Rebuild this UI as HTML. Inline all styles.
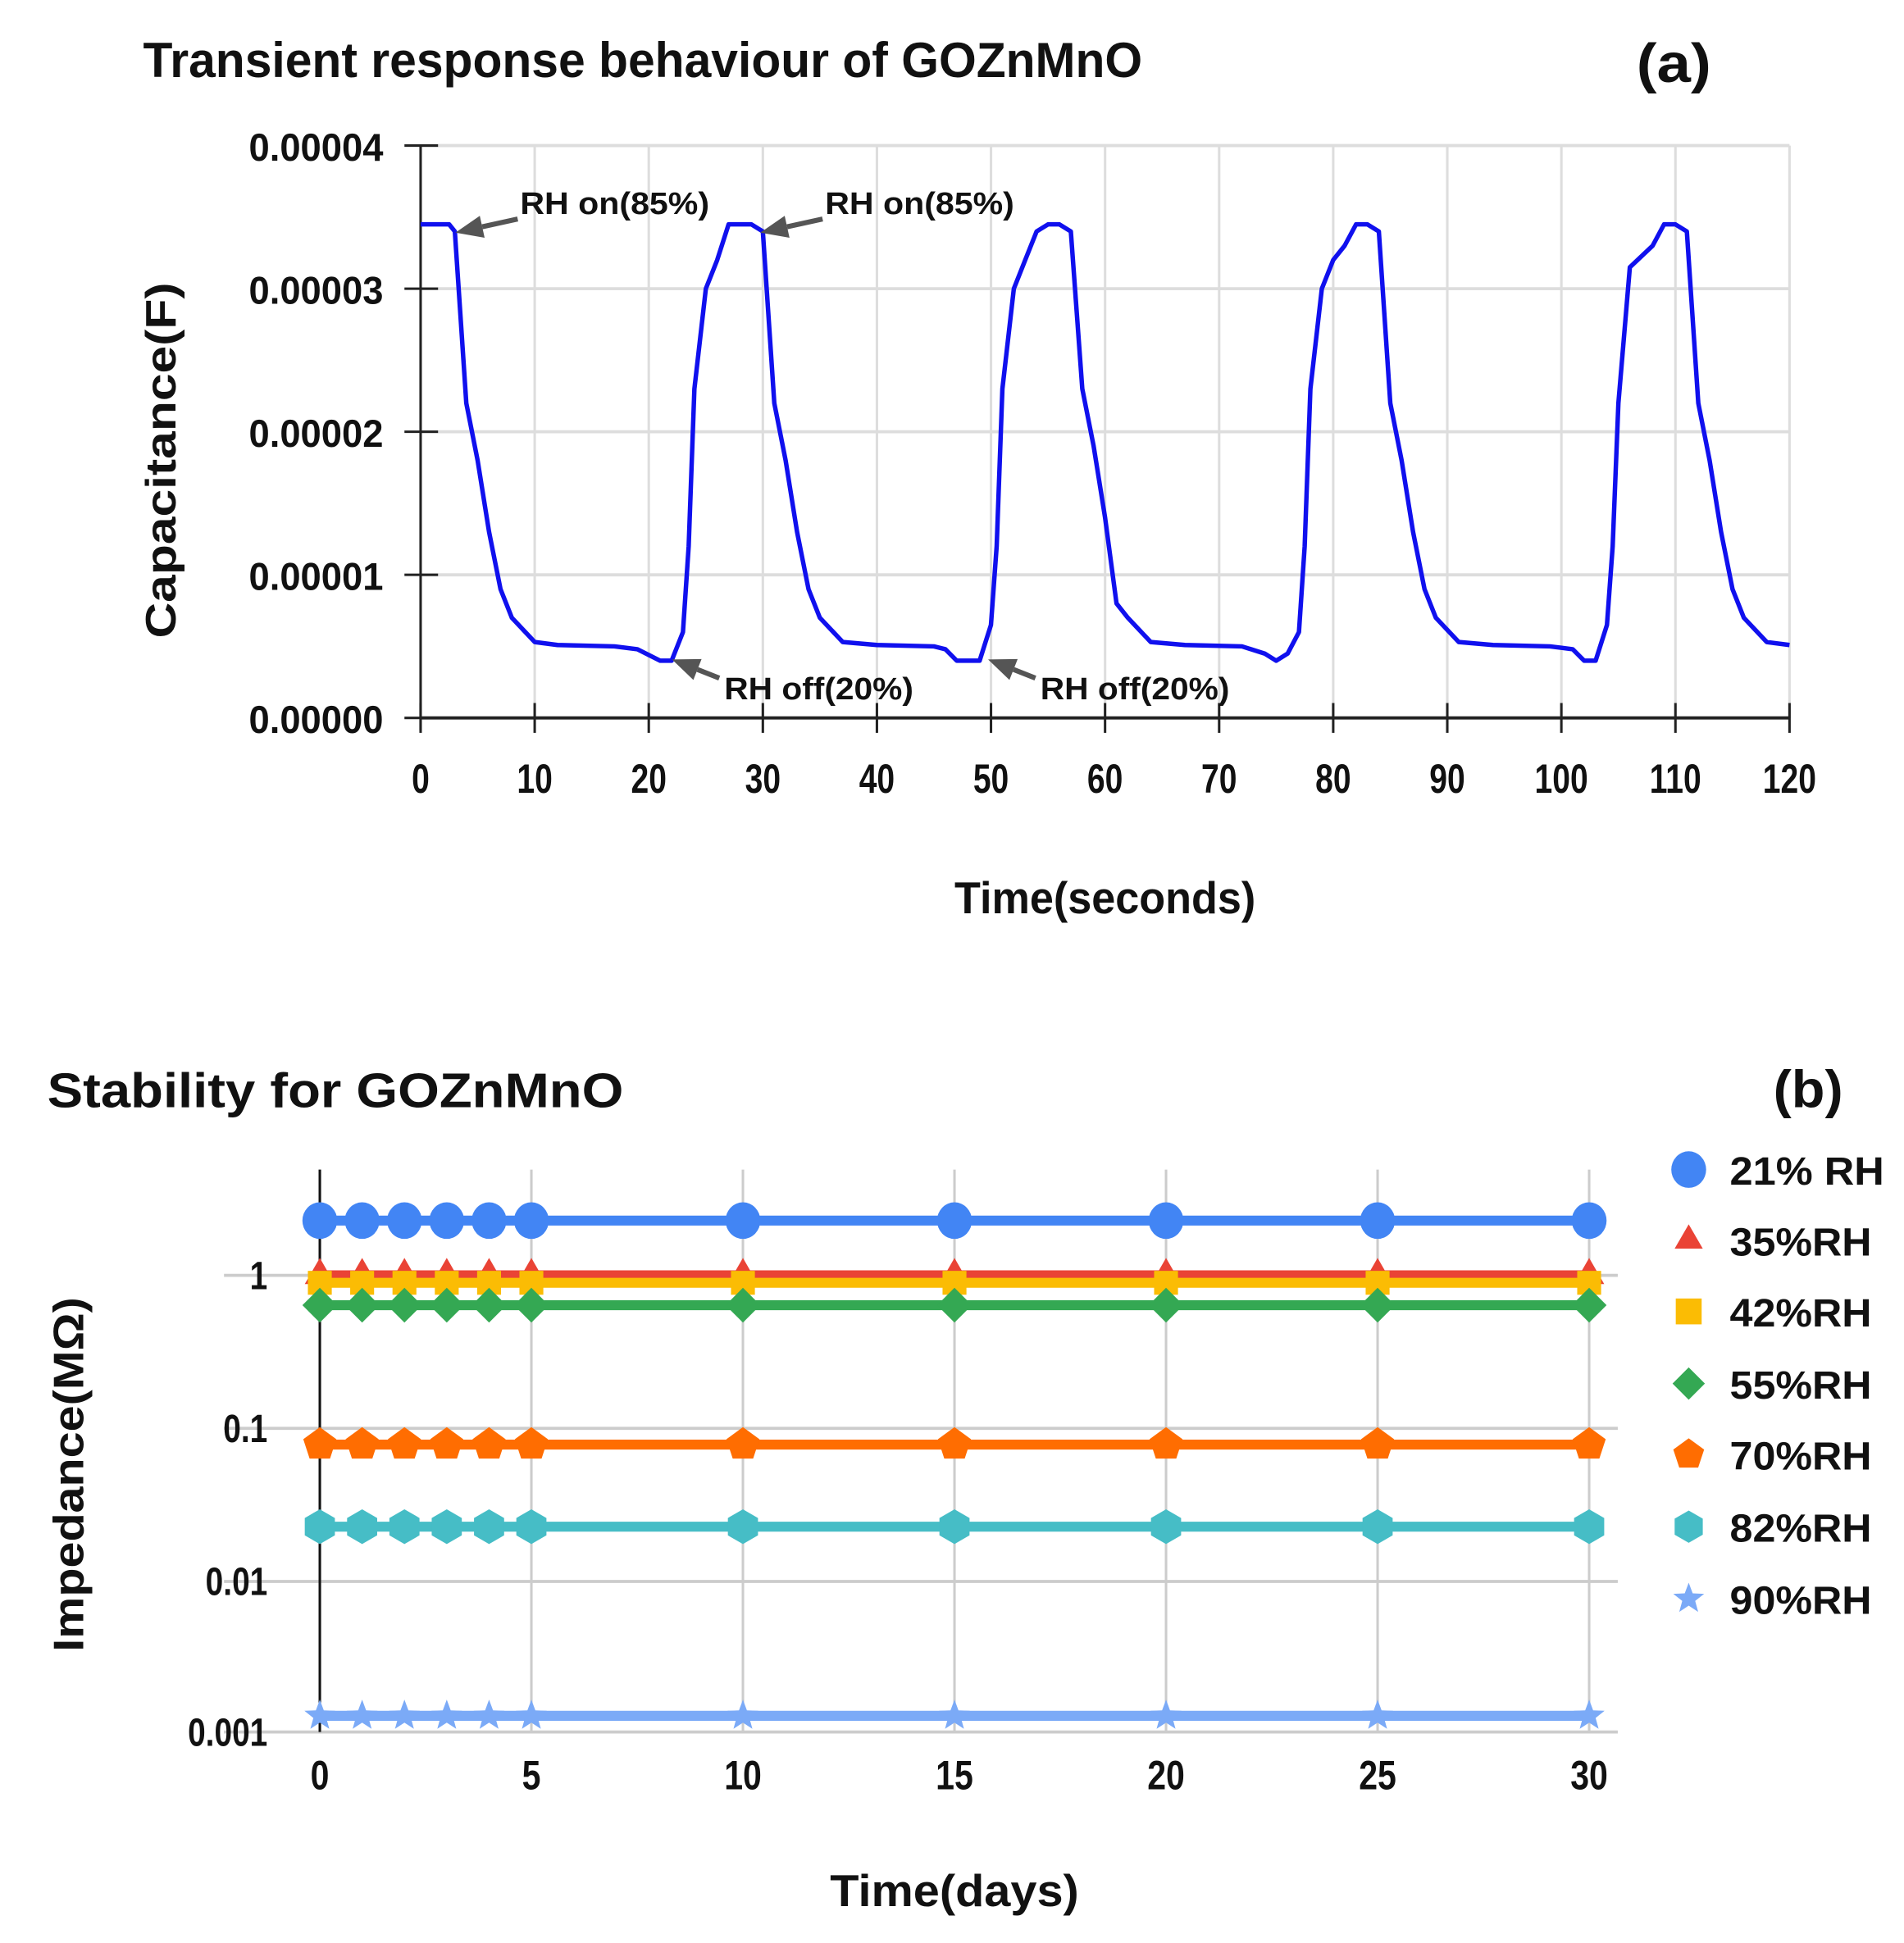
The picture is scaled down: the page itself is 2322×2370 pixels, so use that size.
<!DOCTYPE html>
<html><head><meta charset="utf-8"><style>
html,body{margin:0;padding:0;background:#fff}
svg{display:block}
text{font-family:"Liberation Sans",Arial,sans-serif;font-weight:bold;fill:#111}
</style></head><body>
<svg id="s" width="2322" height="2370" viewBox="0 0 1530 1561.6" preserveAspectRatio="none" xmlns="http://www.w3.org/2000/svg"></svg>
<script>
var o='';
var X0=338,X1=1438,Y0=577,Y1=117;
function ax(t){return X0+t*(X1-X0)/120}
function ay(v){return Y0-v*(Y0-Y1)/4}
for(var i=0;i<=12;i++){var x=ax(i*10);o+='<line x1="'+x+'" y1="'+Y1+'" x2="'+x+'" y2="'+Y0+'" stroke="#ddd" stroke-width="2"/>';}
for(var j=0;j<=4;j++){var y=ay(j);o+='<line x1="'+X0+'" y1="'+y+'" x2="'+X1+'" y2="'+y+'" stroke="#ddd" stroke-width="2.5"/>';
 o+='<line x1="325" y1="'+y+'" x2="352" y2="'+y+'" stroke="#222" stroke-width="2"/>';
 o+='<text x="308" y="'+(y+12)+'" font-size="31" text-anchor="end" textLength="108" lengthAdjust="spacingAndGlyphs">0.0000'+j+'</text>';}
o+='<line x1="'+X0+'" y1="'+Y1+'" x2="'+X0+'" y2="'+(Y0+10)+'" stroke="#222" stroke-width="2"/>';
o+='<line x1="'+X0+'" y1="'+Y0+'" x2="'+X1+'" y2="'+Y0+'" stroke="#222" stroke-width="2.5"/>';
for(var i=0;i<=12;i++){var x=ax(i*10);o+='<line x1="'+x+'" y1="'+(Y0-12)+'" x2="'+x+'" y2="'+(Y0+12)+'" stroke="#222" stroke-width="2"/>';
 o+='<text x="'+x+'" y="637" font-size="33" text-anchor="middle" transform="translate('+x+',0) scale(0.78,1) translate('+(-x)+',0)">'+(i*10)+'</text>';}
var d=[0,3.45,2.5,3.45,3,3.4,4,2.2,5,1.8,6,1.3,7,0.9,8,0.7,10,0.53,12,0.51,17,0.5,19,0.48,21,0.4,22,0.4,23,0.6,23.5,1.2,24,2.3,25,3.0,26,3.2,27,3.45,29,3.45,30,3.4,31,2.2,32,1.8,33,1.3,34,0.9,35,0.7,37,0.53,40,0.51,45,0.5,46,0.48,47,0.4,49,0.4,50,0.65,50.5,1.2,51,2.3,52,3.0,53,3.2,54,3.4,55,3.45,56,3.45,57,3.4,58,2.3,59,1.9,60,1.4,61,0.8,62,0.7,64,0.53,67,0.51,72,0.5,74,0.45,75,0.4,76,0.45,77,0.6,77.5,1.2,78,2.3,79,3.0,80,3.2,81,3.3,82,3.45,83,3.45,84,3.4,85,2.2,86,1.8,87,1.3,88,0.9,89,0.7,91,0.53,94,0.51,99,0.5,101,0.48,102,0.4,103,0.4,104,0.65,104.5,1.2,105,2.2,106,3.15,108,3.3,109,3.45,110,3.45,111,3.4,112,2.2,113,1.8,114,1.3,115,0.9,116,0.7,118,0.53,120,0.51];
var p='';for(var k=0;k<d.length;k+=2)p+=(k?'L':'M')+ax(d[k]).toFixed(1)+','+ay(d[k+1]).toFixed(1);
o+='<path d="'+p+'" fill="none" stroke="#1010ee" stroke-width="3.6" stroke-linejoin="round"/>';
function arrow(x1,y1,x2,y2){var a=Math.atan2(y2-y1,x2-x1),L=22,W=9;
 var bx=x2-L*Math.cos(a),by=y2-L*Math.sin(a);
 o+='<line x1="'+x1+'" y1="'+y1+'" x2="'+bx+'" y2="'+by+'" stroke="#555" stroke-width="4"/>';
 o+='<polygon points="'+x2+','+y2+' '+(bx+W*Math.sin(a))+','+(by-W*Math.cos(a))+' '+(bx-W*Math.sin(a))+','+(by+W*Math.cos(a))+'" fill="#555"/>';}
arrow(416,176,366,187);arrow(661,176,611,187);arrow(578,545,540,530);arrow(832,545,794,530);
o+='<text x="418" y="172" font-size="25" textLength="152" lengthAdjust="spacingAndGlyphs">RH on(85%)</text>';
o+='<text x="663" y="172" font-size="25" textLength="152" lengthAdjust="spacingAndGlyphs">RH on(85%)</text>';
o+='<text x="582" y="562" font-size="25" textLength="152" lengthAdjust="spacingAndGlyphs">RH off(20%)</text>';
o+='<text x="836" y="562" font-size="25" textLength="152" lengthAdjust="spacingAndGlyphs">RH off(20%)</text>';
o+='<text x="115" y="62" font-size="40" textLength="803" lengthAdjust="spacingAndGlyphs">Transient response behaviour of GOZnMnO</text>';
o+='<text x="1315" y="66" font-size="44" textLength="60" lengthAdjust="spacingAndGlyphs">(a)</text>';
o+='<text x="888" y="734" font-size="36" text-anchor="middle" textLength="242" lengthAdjust="spacingAndGlyphs">Time(seconds)</text>';
o+='<text transform="translate(141,370) rotate(-90)" font-size="34" text-anchor="middle" textLength="286" lengthAdjust="spacingAndGlyphs">Capacitance(F)</text>';
var BX0=257,BX1=1277,BY=[1025,1148,1271,1392];
function bx(t){return BX0+t*(BX1-BX0)/30}
[0,5,10,15,20,25,30].forEach(function(t){var x=bx(t);o+='<line x1="'+x+'" y1="940" x2="'+x+'" y2="1392" stroke="#ccc" stroke-width="2"/>';
 o+='<text x="'+x+'" y="1438" font-size="33" text-anchor="middle" transform="translate('+x+',0) scale(0.82,1) translate('+(-x)+',0)">'+t+'</text>';});
var yl=['1','0.1','0.01','0.001'];
BY.forEach(function(y,i){o+='<line x1="180" y1="'+y+'" x2="1300" y2="'+y+'" stroke="#ccc" stroke-width="2.5"/>';
 o+='<text x="215" y="'+(y+11)+'" font-size="32" text-anchor="end" transform="translate(215,0) scale(0.8,1) translate(-215,0)">'+yl[i]+'</text>';});
o+='<line x1="257" y1="940" x2="257" y2="1392" stroke="#111" stroke-width="2"/>';
var days=[0,1,2,3,4,5,10,15,20,25,30];
var S=[['#4285f4',981,'c'],['#ea4335',1025,'t'],['#fbbc04',1031,'s'],['#34a853',1049,'d'],['#ff6d01',1161,'p'],['#46bdc6',1227,'h'],['#7baaf7',1379,'st']];
function mk(type,x,y,c,r){
 if(type=='c')return '<ellipse cx="'+x+'" cy="'+y+'" rx="'+r+'" ry="'+(r*1.05)+'" fill="'+c+'"/>';
 if(type=='s')return '<rect x="'+(x-r*0.8)+'" y="'+(y-r*0.8)+'" width="'+(r*1.6)+'" height="'+(r*1.6)+'" fill="'+c+'"/>';
 var n,rot=-90,pts=[];
 if(type=='t')n=3;else if(type=='d')n=4;else if(type=='p')n=5;else if(type=='h')n=6;
 if(type=='st'){for(var i=0;i<10;i++){var a=(-90+i*36)*Math.PI/180,q=i%2?r*0.42:r;pts.push((x+q*Math.cos(a)).toFixed(1)+','+(y+q*Math.sin(a)).toFixed(1));}}
 else for(var i=0;i<n;i++){var a=(rot+i*360/n)*Math.PI/180;pts.push((x+r*Math.cos(a)).toFixed(1)+','+(y+r*Math.sin(a)).toFixed(1));}
 return '<polygon points="'+pts.join(' ')+'" fill="'+c+'"/>';}
var rs={c:14,t:14,s:12,d:14,p:14,h:14,st:13};
S.forEach(function(s){o+='<line x1="'+bx(0)+'" y1="'+s[1]+'" x2="'+bx(30)+'" y2="'+s[1]+'" stroke="'+s[0]+'" stroke-width="8"/>';
 days.forEach(function(t){o+=mk(s[2],bx(t),s[1],s[0],rs[s[2]]);});});
var LN=['21% RH','35%RH','42%RH','55%RH','70%RH','82%RH','90%RH'],LY=[940,997,1054,1112,1169,1227,1285];
S.forEach(function(s,i){o+=mk(s[2],1357,LY[i],s[0],s[2]=='c'?14:13);
 o+='<text x="1390" y="'+(LY[i]+12)+'" font-size="32" textLength="'+(i==0?124:114)+'" lengthAdjust="spacingAndGlyphs">'+LN[i]+'</text>';});
o+='<text x="38" y="890" font-size="39" textLength="463" lengthAdjust="spacingAndGlyphs">Stability for GOZnMnO</text>';
o+='<text x="1425" y="890" font-size="42" textLength="56" lengthAdjust="spacingAndGlyphs">(b)</text>';
o+='<text x="767" y="1532" font-size="36" text-anchor="middle" textLength="200" lengthAdjust="spacingAndGlyphs">Time(days)</text>';
o+='<text transform="translate(67,1185) rotate(-90)" font-size="34" text-anchor="middle" textLength="285" lengthAdjust="spacingAndGlyphs">Impedance(MΩ)</text>';
document.getElementById('s').innerHTML=o;
</script>
</body></html>
